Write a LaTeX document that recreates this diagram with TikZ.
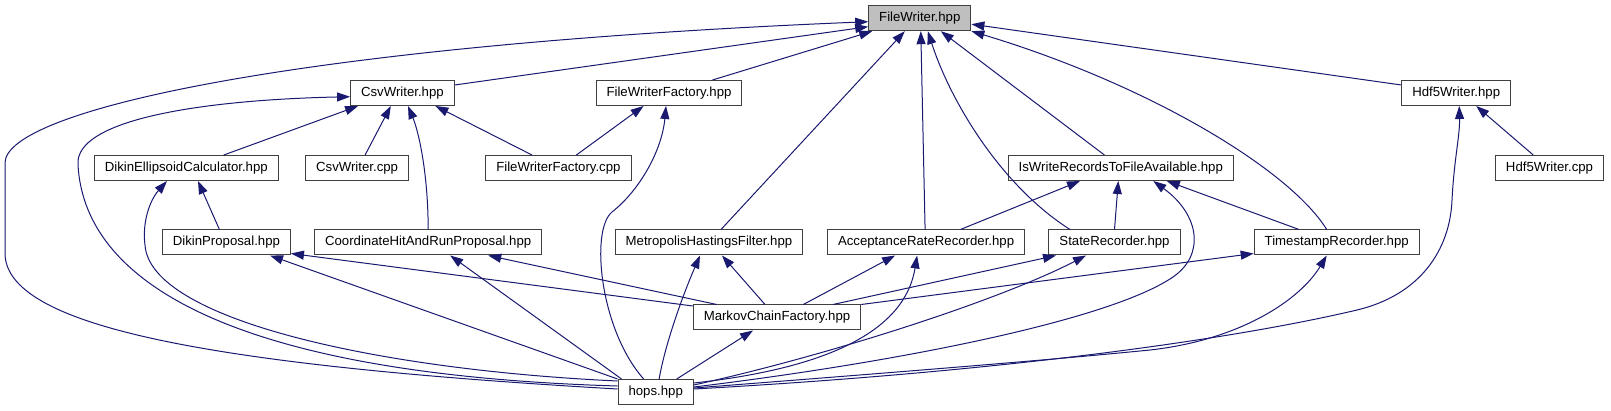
\documentclass[tikz,border=0pt]{standalone}
\usepackage{fontspec}
\setmainfont{Liberation Sans}
\usetikzlibrary{arrows.meta}
\definecolor{doxblu}{HTML}{191970}
\definecolor{doxgrigio}{HTML}{BFBFBF}
\definecolor{doxbordo}{HTML}{404040}
\begin{document}
\begin{tikzpicture}[x=1pt,y=-1pt,
    file/.style={draw=doxbordo,line width=1pt,fill=white,minimum height=25pt,
                 inner xsep=10.5pt,inner ysep=0pt,font=\fontsize{13.2}{15}\selectfont},
    radice/.style={file,fill=doxgrigio},
    dip/.style={draw=doxblu,line width=1pt,-{Triangle[length=13pt,width=9pt]}}]
  \useasboundingbox (0,0) rectangle (1611,411);

  % ---- file ----------------------------------------------------------------
  \node[radice] (fwh)   at (919.8,18.2)  {FileWriter.hpp};
  \node[file]   (csvh)  at (402.4,93)    {CsvWriter.hpp};
  \node[file]   (fwfh)  at (669,93)      {FileWriterFactory.hpp};
  \node[file]   (hdf5h) at (1456.2,93)   {Hdf5Writer.hpp};
  \node[file]   (dech)  at (186.3,168)   {DikinEllipsoidCalculator.hpp};
  \node[file]   (csvc)  at (357.1,168)   {CsvWriter.cpp};
  \node[file]   (fwfc)  at (558.4,168)   {FileWriterFactory.cpp};
  \node[file]   (iwr)   at (1120.8,168)  {IsWriteRecordsToFileAvailable.hpp};
  \node[file]   (hdf5c) at (1549.5,168)  {Hdf5Writer.cpp};
  \node[file]   (dp)    at (226.4,242.5) {DikinProposal.hpp};
  \node[file]   (chrp)  at (428.2,242.5) {CoordinateHitAndRunProposal.hpp};
  \node[file]   (mhf)   at (709,242.5)   {MetropolisHastingsFilter.hpp};
  \node[file]   (arr)   at (926.1,242.5) {AcceptanceRateRecorder.hpp};
  \node[file]   (sr)    at (1114.5,242.5){StateRecorder.hpp};
  \node[file]   (tr)    at (1336.7,242.5){TimestampRecorder.hpp};
  \node[file]   (mcf)   at (777,317.5)   {MarkovChainFactory.hpp};
  \node[file]   (hops)  at (655.7,392)   {hops.hpp};

  % ---- verso FileWriter.hpp ------------------------------------------------
  \draw[dip] ([shift={(0,-3)}]hops.west) .. controls (200,365) and (5,325) .. (5,253)
             -- (5,163) .. controls (5,110) and (300,45) .. ([shift={(0,3.5)}]fwh.west);
  \draw[dip] ([shift={(0,-8)}]csvh.east) -- ([shift={(0,8.5)}]fwh.west);
  \draw[dip] ([shift={(43.5,0)}]fwfh.north) -- ([shift={(4,0)}]fwh.south west);
  \draw[dip] ([shift={(12,0)}]mhf.north) -- ([shift={(-15,0)}]fwh.south);
  \draw[dip] ([shift={(-1,0)}]arr.north) -- ([shift={(1,0)}]fwh.south);
  \draw[dip] ([shift={(-44.5,0)}]sr.north) .. controls (1000,185) and (950,100) .. ([shift={(8,0)}]fwh.south);
  \draw[dip] ([shift={(-16.4,0)}]iwr.north) -- ([shift={(21,0)}]fwh.south);
  \draw[dip] ([shift={(-10,0)}]tr.north) .. controls (1290,170) and (1150,85) .. (fwh.south east);
  \draw[dip] ([shift={(0,-8)}]hdf5h.west) -- ([shift={(0,6)}]fwh.east);

  % ---- verso CsvWriter.hpp -------------------------------------------------
  \draw[dip] ([shift={(0,-6)}]hops.west) .. controls (250,375) and (85,290) .. (78,165)
             .. controls (74,120) and (200,100) .. ([shift={(0,3.7)}]csvh.west);
  \draw[dip] ([shift={(37.5,0)}]dech.north) -- ([shift={(-44.3,0)}]csvh.south);
  \draw[dip] ([shift={(8,0)}]csvc.north) -- ([shift={(-11.6,0)}]csvh.south);
  \draw[dip] (chrp.north) .. controls (428,170) and (418,130) .. ([shift={(5.6,0)}]csvh.south);
  \draw[dip] ([shift={(-26.4,0)}]fwfc.north) -- ([shift={(33,0)}]csvh.south);

  % ---- verso FileWriterFactory.hpp -----------------------------------------
  \draw[dip] ([shift={(18,0)}]fwfc.north) -- ([shift={(-25.4,0)}]fwfh.south);
  \draw[dip] ([shift={(-12,0)}]hops.north) .. controls (600,330) and (590,230) .. (612,212)
             .. controls (640,190) and (662,150) .. ([shift={(-3,0)}]fwfh.south);

  % ---- verso Hdf5Writer.hpp ------------------------------------------------
  \draw[dip] ([shift={(-16.3,0)}]hdf5c.north) -- ([shift={(20,0)}]hdf5h.south);
  \draw[dip] ([shift={(0,-3)}]hops.east) .. controls (1000,372) and (1230,340) .. (1357,310)
             .. controls (1420,295) and (1450,250) .. (1452,200)
             .. controls (1454,160) and (1460,135) .. ([shift={(3,0)}]hdf5h.south);

  % ---- verso IsWriteRecordsToFileAvailable.hpp -----------------------------
  \draw[dip] ([shift={(34.3,0)}]arr.north) -- ([shift={(-40.8,0)}]iwr.south);
  \draw[dip] (sr.north) -- ([shift={(-2.5,0)}]iwr.south);
  \draw[dip] ([shift={(-37.7,0)}]tr.north) -- ([shift={(46,0)}]iwr.south);
  \draw[dip] ([shift={(0,-5)}]hops.east) .. controls (900,362) and (1110,320) .. (1173,277)
             .. controls (1205,255) and (1200,215) .. ([shift={(32.5,0)}]iwr.south);

  % ---- verso DikinEllipsoidCalculator.hpp ----------------------------------
  \draw[dip] ([shift={(-7,0)}]dp.north) -- ([shift={(11.7,0)}]dech.south);
  \draw[dip] ([shift={(0,2)}]hops.north west) .. controls (380,370) and (150,320) .. (145,245)
             .. controls (142,222) and (150,200) .. ([shift={(-19.3,0)}]dech.south);

  % ---- verso le proposte e i recorder --------------------------------------
  \draw[dip] ([shift={(0,1.5)}]mcf.north west) -- ([shift={(0,-2)}]dp.south east);
  \draw[dip] (hops.north west) -- ([shift={(43.6,0)}]dp.south);
  \draw[dip] ([shift={(-60.3,0)}]mcf.north) -- ([shift={(60,0)}]chrp.south);
  \draw[dip] ([shift={(4,0)}]hops.north west) -- ([shift={(22,0)}]chrp.south);
  \draw[dip] ([shift={(-12,0)}]mcf.north) -- ([shift={(13,0)}]mhf.south);
  \draw[dip] ([shift={(3.4,0)}]hops.north) .. controls (666,340) and (685,290) .. ([shift={(-9,0)}]mhf.south);
  \draw[dip] ([shift={(26.3,0)}]mcf.north) -- ([shift={(-31,0)}]arr.south);
  \draw[dip] ([shift={(0,-9)}]hops.east) .. controls (830,368) and (905,330) .. ([shift={(-9,0)}]arr.south);
  \draw[dip] ([shift={(56,0)}]mcf.north) -- ([shift={(-58.5,0)}]sr.south);
  \draw[dip] ([shift={(0,-7)}]hops.east) .. controls (830,355) and (1000,300) .. ([shift={(-28.5,0)}]sr.south);
  \draw[dip] (mcf.north east) -- ([shift={(0,-2)}]tr.south west);
  \draw[dip] ([shift={(0,-4)}]hops.east) .. controls (900,372) and (1050,360) .. (1150,350)
             .. controls (1240,340) and (1300,300) .. ([shift={(-10,0)}]tr.south);

  % ---- verso MarkovChainFactory.hpp ----------------------------------------
  \draw[dip] ([shift={(21,0)}]hops.north) -- ([shift={(-24,0)}]mcf.south);
\end{tikzpicture}
\end{document}
